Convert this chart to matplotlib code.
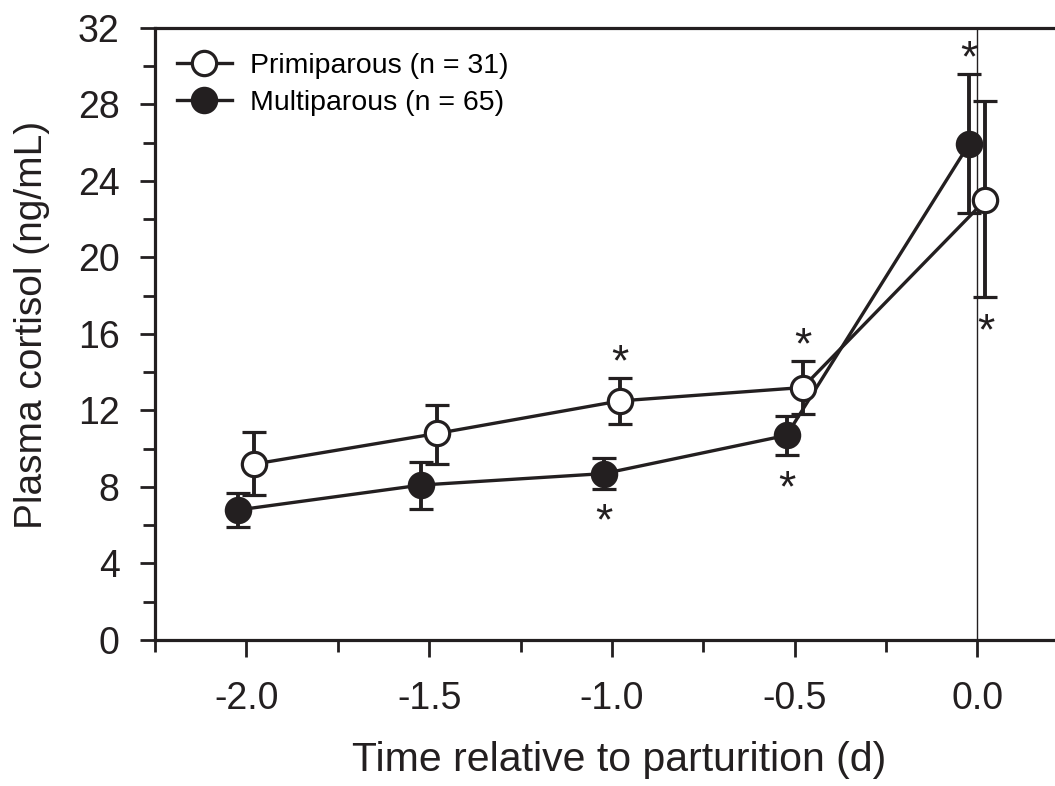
import matplotlib
matplotlib.use("Agg")
import matplotlib.pyplot as plt
from matplotlib.lines import Line2D
from matplotlib.ticker import MultipleLocator, FormatStrFormatter

plt.rcParams['font.family'] = ['Liberation Sans', 'DejaVu Sans']

# Days relative to parturition
days = [-2.0, -1.5, -1.0, -0.5, 0.0]

# Plasma cortisol (ng/mL), mean with lower / upper error bounds
primi_mean = [9.2, 10.8, 12.5, 13.2, 23.0]
primi_low = [7.6, 9.2, 11.3, 11.8, 17.95]
primi_high = [10.9, 12.3, 13.7, 14.6, 28.2]

multi_mean = [6.8, 8.1, 8.7, 10.7, 25.95]
multi_low = [5.9, 6.85, 7.9, 9.65, 22.3]
multi_high = [7.7, 9.3, 9.5, 11.7, 29.6]

primi_label = "Primiparous (n = 31)"
multi_label = "Multiparous (n = 65)"

# Significance markers: (day, height on the cortisol axis)
primi_stars = [(-1.0, 14.45), (-0.5, 15.35), (0.0, 16.05)]
multi_stars = [(-1.0, 6.1), (-0.5, 7.85), (0.0, 30.35)]

offset = 0.022
ink = "#231f20"

fig = plt.figure(figsize=(10.55, 7.86), dpi=100)
ax = fig.add_axes([0.147, 0.1858, 0.866, 0.7786])

x_p = [d + offset for d in days]
x_m = [d - offset for d in days]

ax.axvline(0.0, color=ink, lw=1.0, zorder=1)

marker_kw = dict(ms=17.5, mew=2.3, lw=2.4)


def draw(xs, mean, low, high, face):
    yerr = [[m - l for m, l in zip(mean, low)], [h - m for m, h in zip(mean, high)]]
    ax.errorbar(xs, mean, yerr=yerr, fmt='o-', color=ink, mfc=face, mec=ink,
                elinewidth=2.8, capsize=8.6, capthick=2.8, zorder=3,
                **marker_kw)


draw(x_m, multi_mean, multi_low, multi_high, ink)
draw(x_p, primi_mean, primi_low, primi_high, 'white')

for d, v in primi_stars:
    ax.text(d + offset, v, '*', ha='center', va='center', fontsize=32,
            color=ink)
for d, v in multi_stars:
    ax.text(d - offset, v, '*', ha='center', va='center', fontsize=32,
            color=ink)

ax.set_xlim(-2.25, 0.25)
ax.set_ylim(0, 32)
ax.xaxis.set_major_locator(MultipleLocator(0.5))
ax.xaxis.set_minor_locator(MultipleLocator(0.25))
ax.xaxis.set_major_formatter(FormatStrFormatter('%.1f'))
ax.yaxis.set_major_locator(MultipleLocator(4))
ax.yaxis.set_minor_locator(MultipleLocator(2))

for s in ['top', 'bottom', 'left', 'right']:
    ax.spines[s].set_linewidth(2.3)
    ax.spines[s].set_color(ink)

ax.tick_params(which='major', direction='out', width=2.0, colors=ink)
ax.tick_params(which='minor', direction='out', width=2.0, colors=ink)
ax.tick_params(axis='y', which='major', length=11, labelsize=27, pad=14.5)
ax.tick_params(axis='y', which='minor', length=8.5)
ax.tick_params(axis='x', which='major', length=12.5, labelsize=27, pad=17)
ax.tick_params(axis='x', which='minor', length=8.5)

ax.set_xlabel('Time relative to parturition (d)', fontsize=29.5, color=ink)
ax.set_ylabel('Plasma cortisol (ng/mL)', fontsize=28, color=ink)
ax.yaxis.set_label_coords(-0.115, 0.515)
ax.xaxis.set_label_coords(0.508, -0.165)

handles = [
    Line2D([], [], color=ink, marker='o', mfc='white', mec=ink, **marker_kw),
    Line2D([], [], color=ink, marker='o', mfc=ink, mec=ink, **marker_kw),
]
ax.legend(handles, [primi_label, multi_label],
          loc='upper left', frameon=False, fontsize=20.5, handlelength=1.9,
          handletextpad=0.65, labelspacing=0.4, borderaxespad=0.0,
          bbox_to_anchor=(0.012, 0.978))

fig.savefig('out.png', dpi=100)
